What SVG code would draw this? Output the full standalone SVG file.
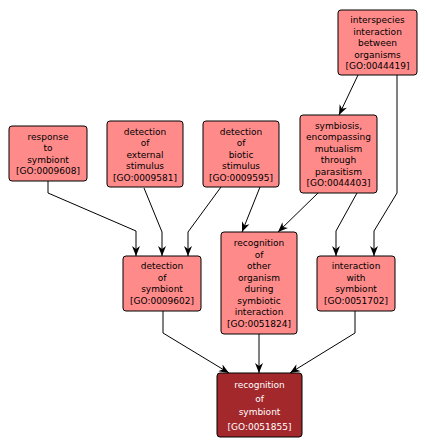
<svg xmlns="http://www.w3.org/2000/svg" width="426" height="448" viewBox="0 0 426 448">
<defs>
<style>
.n rect{fill:#ff8a8a;stroke:#000;stroke-width:1}
.n text{font-family:"DejaVu Sans",sans-serif;font-size:9px;fill:#000;text-anchor:middle}
.d rect{fill:#a2282c;stroke:#000;stroke-width:1}
.d text{font-family:"DejaVu Sans",sans-serif;font-size:9px;fill:#fff;text-anchor:middle}
.e path{fill:none;stroke:#000;stroke-width:1;marker-end:url(#ah)}
</style>
<marker id="ah" markerUnits="userSpaceOnUse" markerWidth="10" markerHeight="10" viewBox="0 0 10 8" refX="10" refY="4" orient="auto">
<path d="M0,0 L10,4 L0,8 L3,4 z" fill="#000"/>
</marker>
</defs>
<rect width="426" height="448" fill="#fff"/>
<g id="edges" class="e">
<path d="M48,181 L48,193 L136,231 L136,256"/>
<path d="M144,188 L162,232 L162,256"/>
<path d="M221,187 L188,232 L188,256"/>
<path d="M260,187 L242,232"/>
<path d="M318,193 L278,232"/>
<path d="M357,193 L336,231 L336,256"/>
<path d="M358,75 L339,115"/>
<path d="M397,75 L397,193 L374,231 L374,256"/>
<path d="M163,311 L163,333 L229,373"/>
<path d="M259,334 L259,373"/>
<path d="M355,311 L355,333 L290,373"/>
</g>
<g id="n_response" class="n">
<rect x="9" y="126" width="78" height="55" rx="3"/>
<text x="48" y="139.5">response</text><text x="48" y="151">to</text><text x="48" y="162.5">symbiont</text><text x="48" y="174">[GO:0009608]</text>
</g>
<g id="n_external" class="n">
<rect x="107" y="121" width="76" height="66" rx="3"/>
<text x="145" y="134.5">detection</text><text x="145" y="146">of</text><text x="145" y="157.5">external</text><text x="145" y="169">stimulus</text><text x="145" y="180.5">[GO:0009581]</text>
</g>
<g id="n_biotic" class="n">
<rect x="203" y="121" width="76" height="66" rx="3"/>
<text x="241" y="134.5">detection</text><text x="241" y="146">of</text><text x="241" y="157.5">biotic</text><text x="241" y="169">stimulus</text><text x="241" y="180.5">[GO:0009595]</text>
</g>
<g id="n_symbiosis" class="n">
<rect x="300" y="115" width="77" height="78" rx="3"/>
<text x="338.5" y="128.5">symbiosis,</text><text x="338.5" y="140">encompassing</text><text x="338.5" y="151.5">mutualism</text><text x="338.5" y="163">through</text><text x="338.5" y="174.5">parasitism</text><text x="338.5" y="186">[GO:0044403]</text>
</g>
<g id="n_interspecies" class="n">
<rect x="338" y="10" width="79" height="65" rx="3"/>
<text x="377.5" y="23">interspecies</text><text x="377.5" y="34.5">interaction</text><text x="377.5" y="46">between</text><text x="377.5" y="57.5">organisms</text><text x="377.5" y="69">[GO:0044419]</text>
</g>
<g id="n_detsymbiont" class="n">
<rect x="123" y="256" width="78" height="55" rx="3"/>
<text x="162" y="269">detection</text><text x="162" y="280.5">of</text><text x="162" y="292">symbiont</text><text x="162" y="303.5">[GO:0009602]</text>
</g>
<g id="n_recogother" class="n">
<rect x="221" y="232" width="76" height="102" rx="3"/>
<text x="259" y="246">recognition</text><text x="259" y="257.5">of</text><text x="259" y="269">other</text><text x="259" y="280.5">organism</text><text x="259" y="292">during</text><text x="259" y="303.5">symbiotic</text><text x="259" y="315">interaction</text><text x="259" y="326.5">[GO:0051824]</text>
</g>
<g id="n_intsymbiont" class="n">
<rect x="317" y="256" width="78" height="55" rx="3"/>
<text x="356" y="269">interaction</text><text x="356" y="280.5">with</text><text x="356" y="292">symbiont</text><text x="356" y="303.5">[GO:0051702]</text>
</g>
<g id="n_recogsymbiont" class="d">
<rect x="217" y="373" width="85" height="64" rx="3"/>
<text x="259.5" y="387.5">recognition</text><text x="259.5" y="401.5">of</text><text x="259.5" y="415">symbiont</text><text x="259.5" y="429.5">[GO:0051855]</text>
</g>
</svg>
